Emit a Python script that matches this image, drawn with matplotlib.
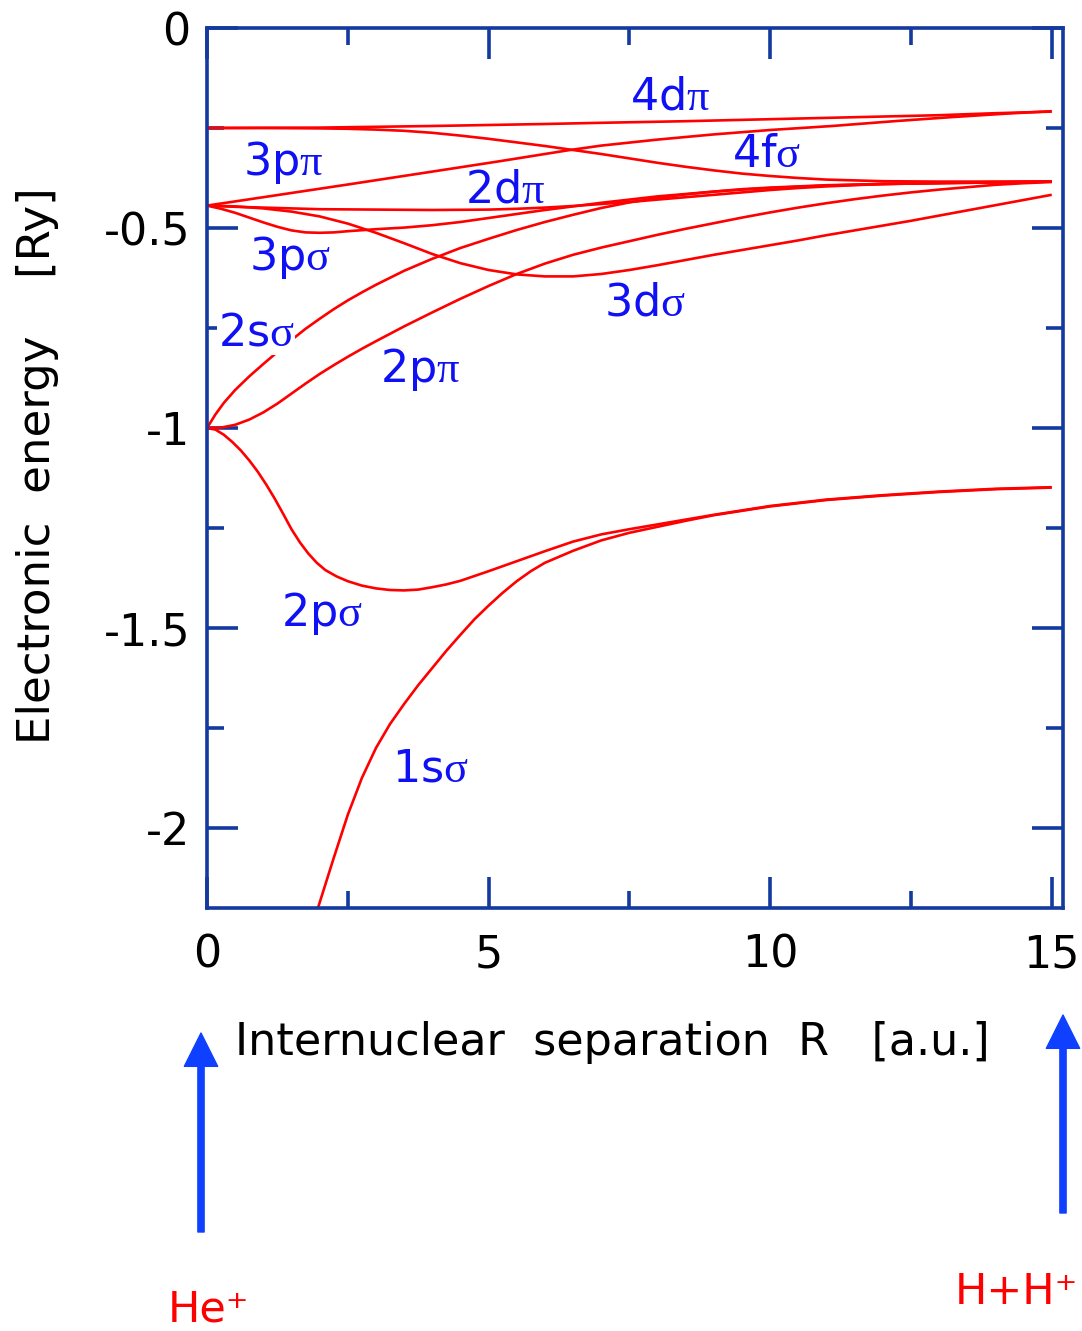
import matplotlib
matplotlib.use('Agg')
import matplotlib.pyplot as plt

# potential curves (R in a.u., E in Ry)
r_1s_sigma = [1.97, 2.25, 2.5, 2.75, 3.0, 3.25, 3.5, 3.75, 4.0, 4.25, 4.5, 4.75, 5.0, 5.25, 5.5,
              5.75, 6.0, 6.5, 7.0, 7.5, 8.0, 8.5, 9.0, 10.0, 11.0, 12.0, 13.0, 14.0, 15.0]
e_1s_sigma = [-2.20, -2.075, -1.967, -1.875, -1.80, -1.74, -1.69, -1.643, -1.60, -1.557, -1.517,
              -1.478, -1.444, -1.412, -1.383, -1.358, -1.337, -1.307, -1.281, -1.262, -1.247,
              -1.232, -1.218, -1.196, -1.180, -1.169, -1.160, -1.153, -1.149]

r_2p_sigma = [0, 0.15, 0.3, 0.45, 0.6, 0.75, 0.9, 1.05, 1.2, 1.35, 1.5, 1.65, 1.8, 1.95, 2.1, 2.3,
              2.5, 2.75, 3.0, 3.25, 3.5, 3.75, 4.0, 4.25, 4.5, 5.0, 5.5, 6.0, 6.5, 7.0, 7.5, 8.0,
              8.5, 9.0, 10.0, 11.0, 12.0, 13.0, 14.0, 15.0]
e_2p_sigma = [-1.0, -1.004, -1.017, -1.035, -1.056, -1.081, -1.109, -1.141, -1.176, -1.214, -1.253,
              -1.286, -1.314, -1.337, -1.355, -1.371, -1.383, -1.394, -1.401, -1.405, -1.406,
              -1.404, -1.398, -1.391, -1.382, -1.358, -1.333, -1.308, -1.284, -1.266, -1.253,
              -1.241, -1.229, -1.217, -1.195, -1.179, -1.168, -1.159, -1.152, -1.148]

r_2p_pi = [0, 0.25, 0.5, 0.75, 1.0, 1.25, 1.5, 1.75, 2.0, 2.25, 2.5, 2.75, 3.0, 3.5, 4.0, 4.5,
           5.0, 5.5, 6.0, 6.5, 7.0, 7.5, 8.0, 8.5, 9.0, 9.5, 10.0, 10.5, 11.0, 11.5, 12.0, 12.5,
           13.0, 13.5, 14.0, 14.5, 15.0]
e_2p_pi = [-1.0, -0.999, -0.992, -0.979, -0.961, -0.939, -0.914, -0.889, -0.865, -0.843, -0.822,
           -0.802, -0.783, -0.746, -0.711, -0.677, -0.645, -0.615, -0.589, -0.567, -0.549, -0.533,
           -0.517, -0.502, -0.488, -0.474, -0.461, -0.449, -0.438, -0.428, -0.419, -0.411,
           -0.404, -0.398, -0.392, -0.388, -0.385]

r_2s_sigma = [0, 0.15, 0.3, 0.5, 0.75, 1.0, 1.25, 1.5, 1.75, 2.0, 2.25, 2.5, 2.75, 3.0, 3.5, 4.0,
              4.5, 5.0, 5.5, 6.0, 6.5, 7.0, 7.5, 8.0, 8.5, 9.0, 9.5, 10.0, 11.0, 12.0, 13.0,
              14.0, 15.0]
e_2s_sigma = [-1.0, -0.966, -0.937, -0.905, -0.871, -0.840, -0.810, -0.780, -0.752, -0.727,
              -0.703, -0.681, -0.661, -0.642, -0.607, -0.577, -0.550, -0.527, -0.505, -0.485,
              -0.467, -0.450, -0.436, -0.425, -0.416, -0.409, -0.403, -0.399, -0.393, -0.390,
              -0.388, -0.386, -0.384]

r_3d_sigma = [0, 0.5, 1.0, 1.5, 2.0, 2.5, 3.0, 3.5, 4.0, 4.5, 5.0, 5.5, 6.0, 6.5, 7.0, 7.5, 8.0,
              8.5, 9.0, 9.5, 10.0, 10.5, 11.0, 11.5, 12.0, 12.5, 13.0, 13.5, 14.0, 14.5, 15.0]
e_3d_sigma = [-0.444, -0.446, -0.451, -0.459, -0.471, -0.489, -0.512, -0.538, -0.565, -0.588,
              -0.605, -0.616, -0.621, -0.621, -0.615, -0.605, -0.593, -0.580, -0.567, -0.555,
              -0.543, -0.531, -0.518, -0.506, -0.494, -0.482, -0.469, -0.456, -0.443, -0.430,
              -0.417]

r_3p_sigma = [0, 0.25, 0.5, 0.75, 1.0, 1.25, 1.5, 1.75, 2.0, 2.25, 2.5, 3.0, 3.5, 4.0, 4.5, 5.0,
              5.5, 6.0, 6.5, 7.0, 7.5, 8.0, 8.5, 9.0, 9.5, 10.0, 11.0, 12.0, 13.0, 14.0, 15.0]
e_3p_sigma = [-0.444, -0.452, -0.462, -0.474, -0.486, -0.497, -0.506, -0.511, -0.512, -0.511,
              -0.508, -0.503, -0.499, -0.493, -0.485, -0.475, -0.465, -0.455, -0.446, -0.437,
              -0.429, -0.421, -0.415, -0.409, -0.404, -0.400, -0.394, -0.390, -0.388, -0.386,
              -0.384]

r_2d_pi = [0, 0.5, 1.0, 1.5, 2.0, 3.0, 4.0, 5.0, 5.5, 6.0, 6.5, 7.0, 7.5, 8.0, 8.5, 9.0, 9.5,
           10.0, 10.5, 11.0, 12.0, 13.0, 14.0, 15.0]
e_2d_pi = [-0.444, -0.447, -0.449, -0.451, -0.453, -0.454, -0.455, -0.454, -0.452, -0.449,
           -0.445, -0.440, -0.435, -0.429, -0.423, -0.417, -0.411, -0.405, -0.400, -0.396,
           -0.390, -0.387, -0.385, -0.384]

r_3p_pi = [0, 1.0, 2.56, 4.0, 5.2, 6.4, 7.0, 8.0, 9.0, 10.0, 11.1, 12.2, 13.2, 14.2, 15.0]
e_3p_pi = [-0.444, -0.423, -0.390, -0.359, -0.333, -0.306, -0.294, -0.279, -0.266, -0.255, -0.245,
           -0.233, -0.223, -0.214, -0.208]

r_4d_pi = [0, 2.0, 4.0, 6.0, 7.0, 8.5, 10.0, 11.5, 13.0, 14.0, 15.0]
e_4d_pi = [-0.250, -0.249, -0.245, -0.240, -0.237, -0.233, -0.228, -0.223, -0.218, -0.213, -0.209]

r_4f_sigma = [0, 1.0, 2.0, 2.5, 3.0, 3.5, 4.0, 4.5, 5.0, 5.5, 6.0, 6.5, 7.0, 7.5, 8.0, 8.5, 9.0,
              9.5, 10.0, 10.5, 11.0, 11.5, 12.0, 13.0, 14.0, 15.0]
e_4f_sigma = [-0.250, -0.250, -0.251, -0.252, -0.254, -0.257, -0.262, -0.269, -0.277, -0.286,
              -0.295, -0.305, -0.315, -0.326, -0.337, -0.347, -0.356, -0.364, -0.370, -0.375,
              -0.379, -0.381, -0.383, -0.384, -0.384, -0.384]

curves = [(r_1s_sigma, e_1s_sigma), (r_2p_sigma, e_2p_sigma), (r_2p_pi, e_2p_pi),
          (r_2s_sigma, e_2s_sigma), (r_3d_sigma, e_3d_sigma), (r_3p_sigma, e_3p_sigma),
          (r_2d_pi, e_2d_pi), (r_3p_pi, e_3p_pi), (r_4d_pi, e_4d_pi), (r_4f_sigma, e_4f_sigma)]

# state labels and where they sit
state_names = [r'$\mathsf{4d}\mathrm{\pi}$', r'$\mathsf{3p}\mathrm{\pi}$', r'$\mathsf{4f}\mathrm{\sigma}$',
               r'$\mathsf{2d}\mathrm{\pi}$', r'$\mathsf{3p}\mathrm{\sigma}$', r'$\mathsf{3d}\mathrm{\sigma}$',
               r'$\mathsf{2s}\mathrm{\sigma}$', r'$\mathsf{2p}\mathrm{\pi}$', r'$\mathsf{2p}\mathrm{\sigma}$',
               r'$\mathsf{1s}\mathrm{\sigma}$']
state_r = [8.23, 1.35, 9.93, 5.30, 1.47, 7.78, 0.87, 3.79, 2.04, 3.96]
state_e = [-0.172, -0.335, -0.317, -0.404, -0.574, -0.687, -0.762, -0.854, -1.463, -1.853]

xticks = [0, 5, 10, 15]
xtick_labels = ['0', '5', '10', '15']
yticks = [0, -0.5, -1, -1.5, -2]
ytick_labels = ['0', '-0.5', '-1', '-1.5', '-2']

plt.rcParams['font.family'] = ['DejaVu Sans']
plt.rcParams['mathtext.fontset'] = 'custom'
plt.rcParams['mathtext.rm'] = 'Liberation Serif'
plt.rcParams['mathtext.sf'] = 'DejaVu Sans'

frame = '#14399f'
fig = plt.figure(figsize=(10.82, 13.31), dpi=100)
W, H = 1082, 1331
ax = fig.add_axes([207 / W, 1 - 908 / H, (1063 - 207) / W, (908 - 28) / H])

for r, e in curves:
    ax.plot(r, e, color='#ff0000', lw=1.9, solid_joinstyle='round', solid_capstyle='butt')

for name, r, e in zip(state_names, state_r, state_e):
    box = None
    if name.startswith(r'$\mathsf{2s}'):
        box = dict(facecolor='white', edgecolor='none', pad=0.5)
    ax.text(r, e, name, color='#1010f5', fontsize=32, ha='center', va='center', bbox=box, zorder=4)

ax.set_xlim(0, 15.2)
ax.set_ylim(-2.2, 0)
ax.set_xticks(xticks)
ax.set_xticklabels(xtick_labels)
ax.set_yticks(yticks)
ax.set_yticklabels(ytick_labels)
ax.set_xticks([2.5, 7.5, 12.5], minor=True)
ax.set_yticks([-0.25, -0.75, -1.25, -1.75], minor=True)
ax.tick_params(which='both', direction='in', top=True, right=True, color=frame, width=2.6,
               labelsize=32)
ax.tick_params(which='major', length=22)
ax.tick_params(which='minor', length=12)
ax.tick_params(axis='x', pad=18)
ax.tick_params(axis='y', pad=12)
for s in ax.spines.values():
    s.set_color(frame)
    s.set_linewidth(2.6)

fig.text(38 / W, 1 - 466 / H, 'Electronic  energy    [Ry]', rotation=90, fontsize=32.5,
         ha='center', va='center')
fig.text(235 / W, 1 - 1043 / H, 'Internuclear  separation  R   [a.u.]', fontsize=32,
         ha='left', va='center')

arrow = dict(width=4.5, headwidth=24, headlength=24, color='#1040ff', shrink=0)
ax.annotate('', xy=(201, H - 1033), xytext=(201, H - 1232), xycoords='figure pixels',
            textcoords='figure pixels', arrowprops=arrow, annotation_clip=False)
ax.annotate('', xy=(1063, H - 1015), xytext=(1063, H - 1213), xycoords='figure pixels',
            textcoords='figure pixels', arrowprops=arrow, annotation_clip=False)

fig.text(208 / W, 1 - 1309 / H, 'He\u207a', color='#ff0000', fontsize=31, ha='center', va='center')
fig.text(1078 / W, 1 - 1292 / H, 'H+H\u207a', color='#ff0000', fontsize=31, ha='right', va='center')

fig.savefig('out.png', dpi=100)
